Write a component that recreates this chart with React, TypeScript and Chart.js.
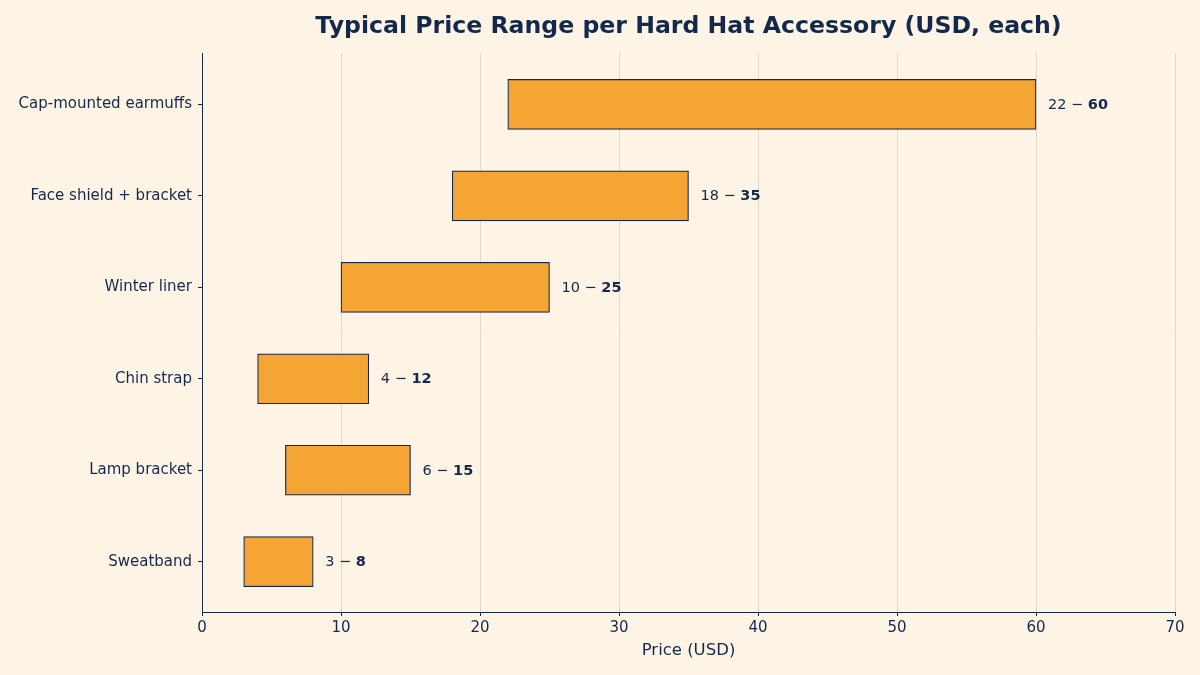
import React, { useEffect, useRef } from "react";
import { Chart, registerables } from "chart.js";

Chart.register(...registerables);

// Accessories listed from top to bottom
const categories = [
  "Cap-mounted earmuffs",
  "Face shield + bracket",
  "Winter liner",
  "Chin strap",
  "Lamp bracket",
  "Sweatband",
];
const lowPrices = [22, 18, 10, 4, 6, 3];
const highPrices = [60, 35, 25, 12, 15, 8];
const xTicks = [0, 10, 20, 30, 40, 50, 60, 70];

const BG = "#fdf4e6";
const NAVY = "#14284b";
const ORANGE = "#f5a534";
const GRID = "#ddd7cd";
const FONT = "'DejaVu Sans', sans-serif";

const rangeLabels = {
  id: "rangeLabels",
  afterDatasetsDraw(chart: any) {
    const { ctx } = chart;
    const xs = chart.scales.x;
    const ys = chart.scales.y;
    ctx.save();
    ctx.fillStyle = NAVY;
    ctx.textBaseline = "middle";
    ctx.textAlign = "left";
    categories.forEach((_, i) => {
      const lo = lowPrices[i];
      const hi = highPrices[i];
      let x = xs.getPixelForValue(hi) + 12;
      const y = ys.getPixelForValue(i) + 0.5;
      ctx.font = `14.5px ${FONT}`;
      const head = `${lo} \u2212 `;
      ctx.fillText(head, x, y);
      x += ctx.measureText(head).width;
      ctx.font = `bold 14.5px ${FONT}`;
      ctx.fillText(`${hi}`, x, y);
    });
    ctx.restore();
  },
};

const centeredTitle = {
  id: "centeredTitle",
  afterDraw(chart: any) {
    const { ctx, chartArea } = chart;
    ctx.save();
    ctx.fillStyle = NAVY;
    ctx.font = `bold 23.6px ${FONT}`;
    ctx.textAlign = "center";
    ctx.textBaseline = "middle";
    ctx.fillText(
      "Typical Price Range per Hard Hat Accessory (USD, each)",
      (chartArea.left + chartArea.right) / 2,
      27
    );
    ctx.restore();
  },
};

export default function App() {
  const canvasRef = useRef<HTMLCanvasElement | null>(null);

  useEffect(() => {
    if (!canvasRef.current) return;
    const chart = new Chart(canvasRef.current, {
      type: "bar",
      data: {
        datasets: [
          {
            data: categories.map((_, i) => ({ x: [lowPrices[i], highPrices[i]], y: i })) as any,
            backgroundColor: ORANGE,
            borderColor: NAVY,
            borderWidth: 1.2,
            borderSkipped: false,
            barThickness: 50,
          },
        ],
      },
      options: {
        indexAxis: "y",
        animation: false,
        responsive: false,
        maintainAspectRatio: false,
        layout: { padding: { top: 53, right: 25, left: 0, bottom: 0 } },
        plugins: {
          legend: { display: false },
          tooltip: { enabled: false },
          title: { display: false },
        },
        scales: {
          x: {
            type: "linear",
            position: "bottom",
            min: 0,
            max: 70,
            afterBuildTicks: (s: any) => {
              s.ticks = xTicks.map((v) => ({ value: v }));
            },
            afterFit: (s: any) => {
              s.height = 63;
            },
            ticks: {
              color: NAVY,
              font: { family: FONT, size: 15 },
              padding: 3,
              maxRotation: 0,
            },
            grid: {
              color: GRID,
              lineWidth: 1,
              drawTicks: true,
              tickLength: 4,
              tickColor: NAVY,
            },
            border: { display: true, color: NAVY, width: 1 },
            title: {
              display: true,
              text: "Price (USD)",
              color: NAVY,
              font: { family: FONT, size: 16.5 },
              padding: { top: 4, bottom: 14 },
            },
          },
          y: {
            type: "linear",
            reverse: true,
            offset: false,
            min: -0.562,
            max: 5.55,
            afterBuildTicks: (s: any) => {
              s.ticks = categories.map((_, i) => ({ value: i }));
            },
            afterFit: (s: any) => {
              s.width = 202;
            },
            ticks: {
              color: NAVY,
              font: { family: FONT, size: 15 },
              padding: 6,
              callback: (v: any) => categories[Number(v)] ?? "",
            },
            grid: {
              offset: false,
              drawOnChartArea: false,
              drawTicks: true,
              tickLength: 4,
              tickColor: NAVY,
            },
            border: { display: true, color: NAVY, width: 1 },
          },
        },
      },
      plugins: [rangeLabels, centeredTitle],
    });
    return () => chart.destroy();
  }, []);

  return (
    <div
      style={{
        position: "fixed",
        left: 0,
        top: 0,
        width: 1200,
        height: 675,
        background: BG,
      }}
    >
      <canvas ref={canvasRef} width={1200} height={675} style={{ display: "block" }} />
    </div>
  );
}
